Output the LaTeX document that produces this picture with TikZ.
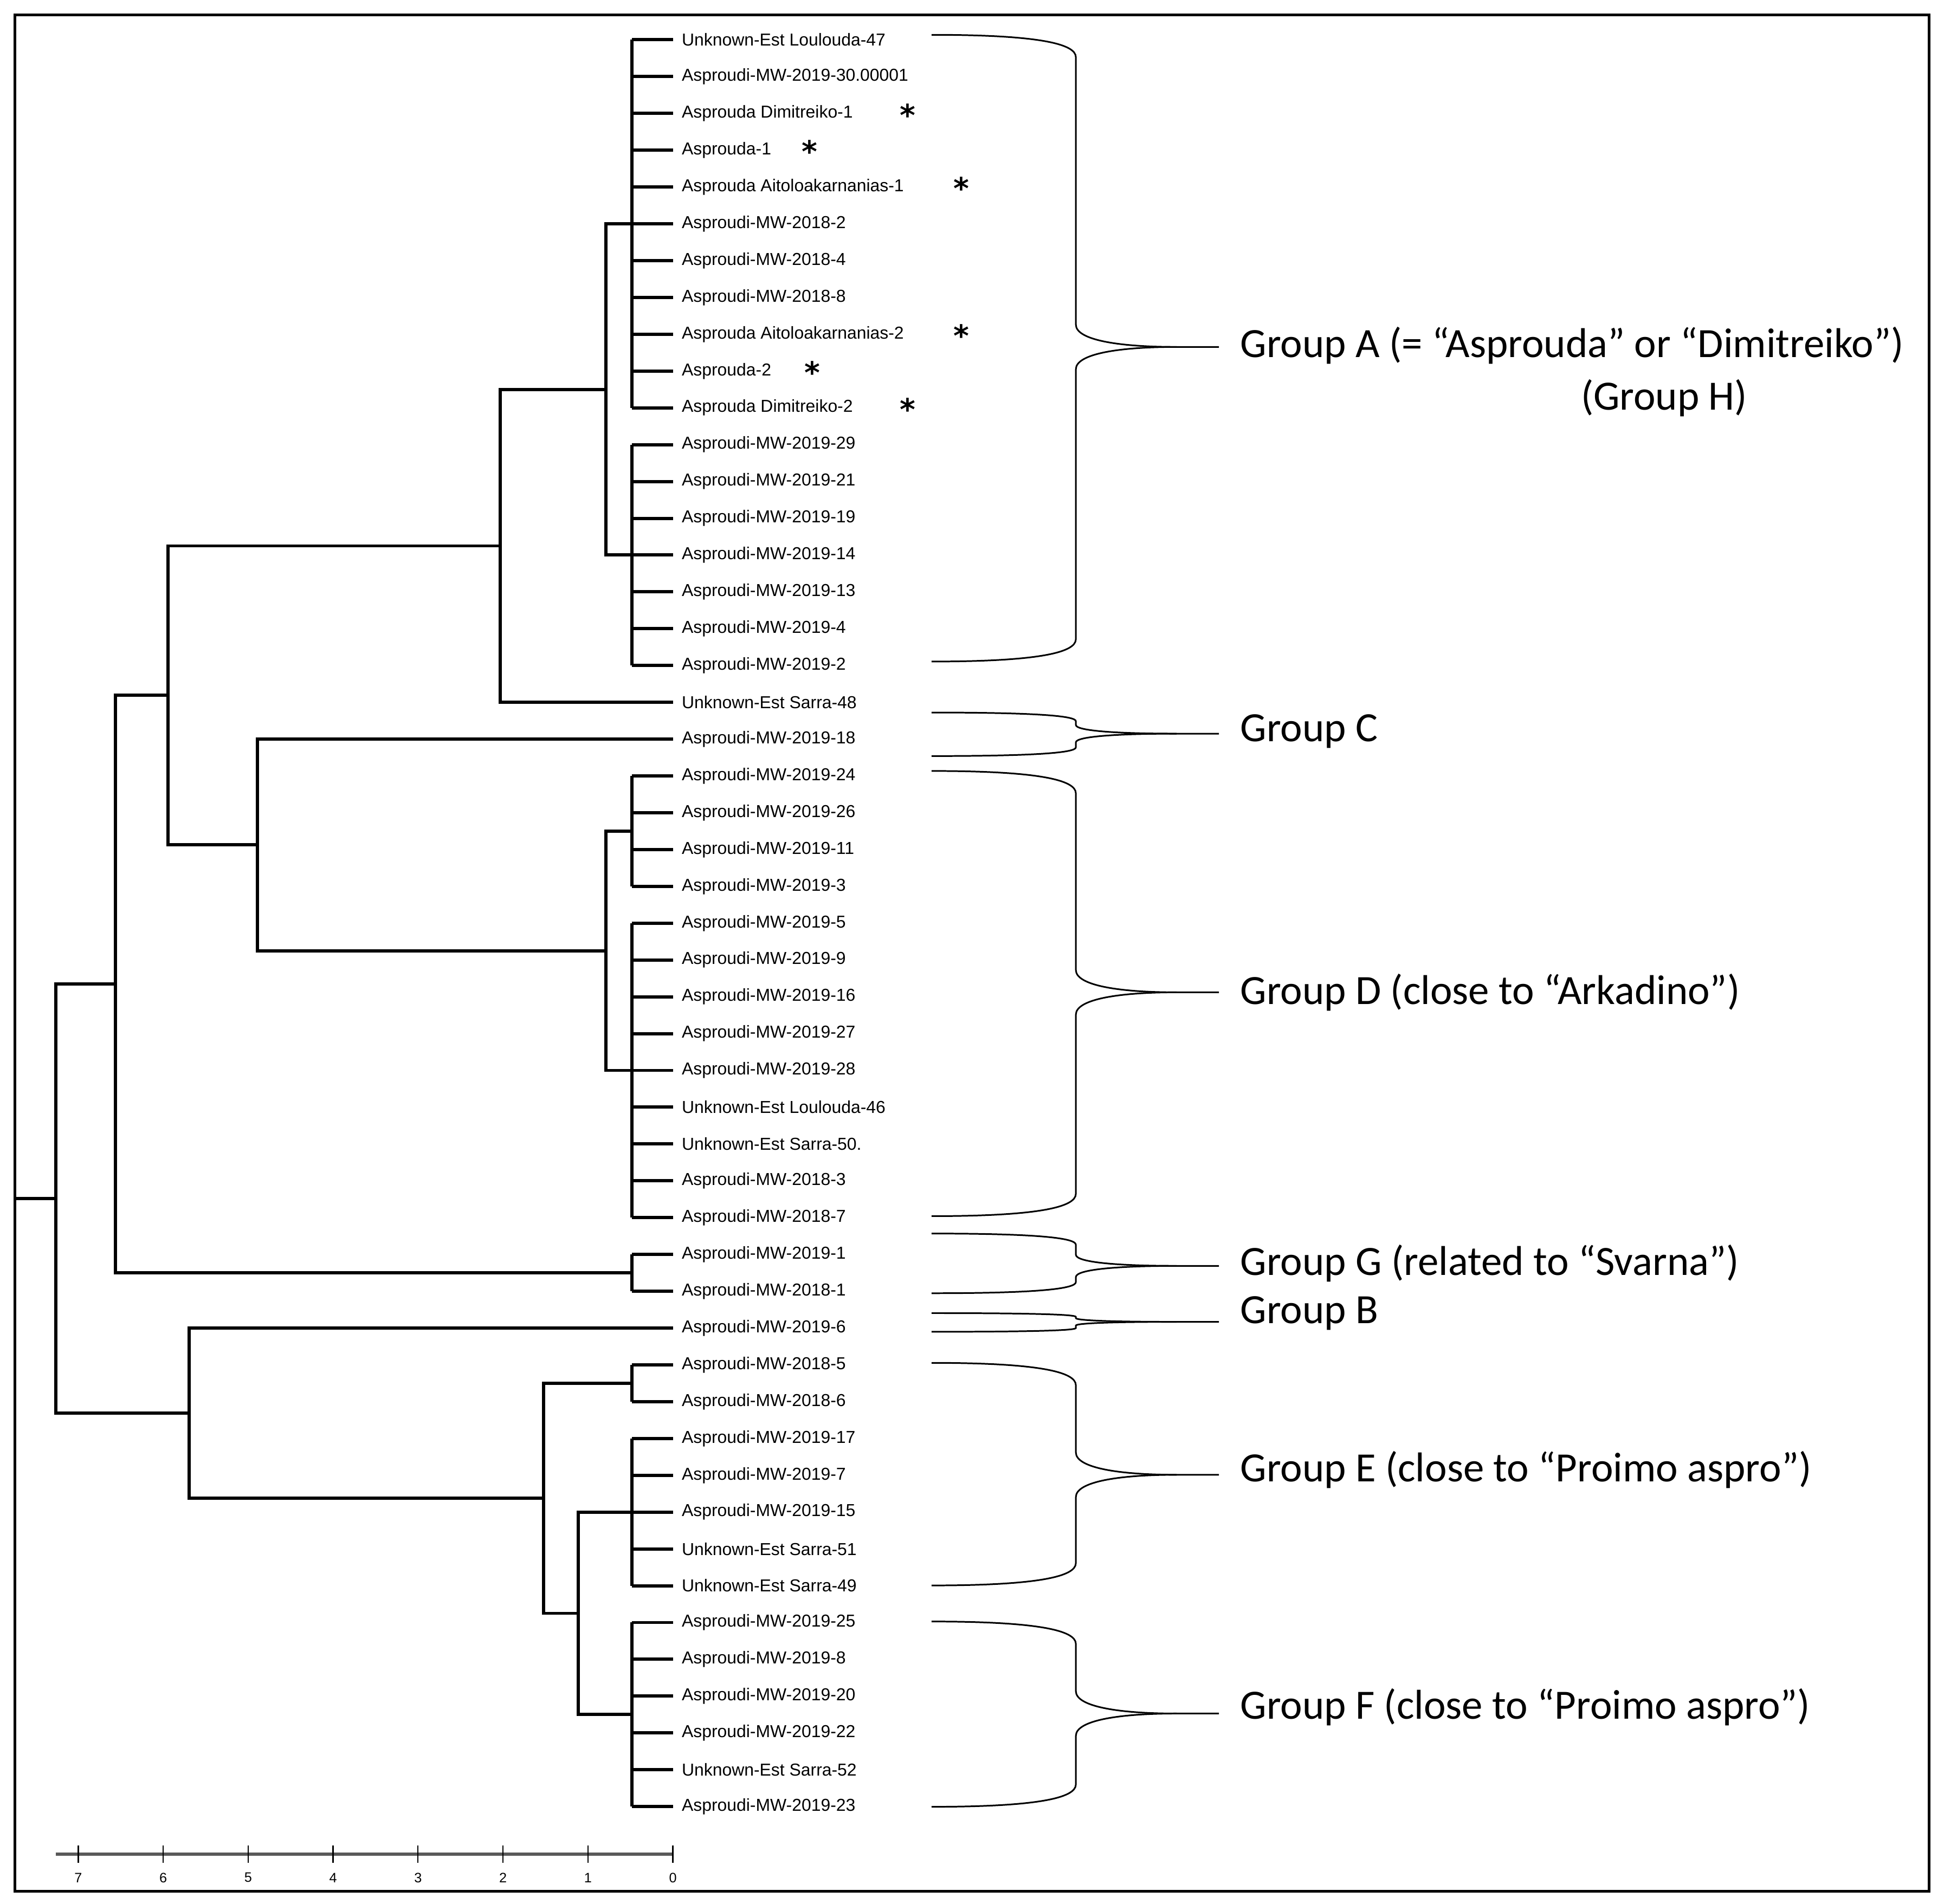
\documentclass[tikz,border=0pt]{standalone}
\usepackage{fontspec}
\setmainfont{Liberation Sans}
\newfontfamily\grpfont{Carlito}
\newfontfamily\starfont{DejaVu Sans}
\begin{document}
\begin{tikzpicture}[x=1pt,y=-1pt,
  tree/.style={line width=2.6pt,line join=miter},
  brc/.style={line width=1.3pt},
  leaf/.style={anchor=west,inner sep=0pt,font=\fontsize{13.9}{16}\selectfont},
  star/.style={inner sep=0pt,font=\starfont\bfseries\fontsize{24}{24}\selectfont},
  grp/.style={anchor=west,inner sep=0pt,font=\grpfont\fontsize{33.5}{36}\selectfont}]
\useasboundingbox (0,0) rectangle (1563,1531);
\draw[line width=2.2pt] (12,12) rectangle (1551,1521);
% leaves
\foreach \t [count=\i] in {Unknown-Est Loulouda-47,Asproudi-MW-2019-30.00001,Asprouda Dimitreiko-1,Asprouda-1,Asprouda Aitoloakarnanias-1,Asproudi-MW-2018-2,Asproudi-MW-2018-4,Asproudi-MW-2018-8,Asprouda Aitoloakarnanias-2,Asprouda-2,Asprouda Dimitreiko-2,Asproudi-MW-2019-29,Asproudi-MW-2019-21,Asproudi-MW-2019-19,Asproudi-MW-2019-14,Asproudi-MW-2019-13,Asproudi-MW-2019-4,Asproudi-MW-2019-2,Unknown-Est Sarra-48,Asproudi-MW-2019-18,Asproudi-MW-2019-24,Asproudi-MW-2019-26,Asproudi-MW-2019-11,Asproudi-MW-2019-3,Asproudi-MW-2019-5,Asproudi-MW-2019-9,Asproudi-MW-2019-16,Asproudi-MW-2019-27,Asproudi-MW-2019-28,Unknown-Est Loulouda-46,Unknown-Est Sarra-50.,Asproudi-MW-2018-3,Asproudi-MW-2018-7,Asproudi-MW-2019-1,Asproudi-MW-2018-1,Asproudi-MW-2019-6,Asproudi-MW-2018-5,Asproudi-MW-2018-6,Asproudi-MW-2019-17,Asproudi-MW-2019-7,Asproudi-MW-2019-15,Unknown-Est Sarra-51,Unknown-Est Sarra-49,Asproudi-MW-2019-25,Asproudi-MW-2019-8,Asproudi-MW-2019-20,Asproudi-MW-2019-22,Unknown-Est Sarra-52,Asproudi-MW-2019-23}{
  \pgfmathsetmacro\yy{32+29.6*(\i-1)}
  \node[leaf] (L\i) at (548,\yy) {\t};
  \coordinate (T\i) at (541,\yy);
  \draw[tree] (508,\yy) -- (T\i);
}
% asterisks
\foreach \i/\xx in {3/730,4/651,5/773,9/773,10/653,11/730}{
  \pgfmathsetmacro\yy{32+29.6*(\i-1)+1}
  \node[star] (S\i) at (\xx,\yy) {*};
}
% tree
\coordinate (nA) at (487,313.2);
\coordinate (nAS) at (402,439);
\coordinate (nD) at (487,764.6);
\coordinate (nCD) at (207,679.5);
\coordinate (nACD) at (135,559.2);
\coordinate (nG) at (93,791.4);
\coordinate (nF) at (465,1297.4);
\coordinate (nEF) at (437,1204.9);
\coordinate (nB) at (152,1136.5);
\coordinate (root) at (45,964);
\draw[tree] (508,32) -- (508,328);
\draw[tree] (508,357.6) -- (508,535.2);
\draw[tree] (508,180) -- (487,180) -- (487,446.4) -- (508,446.4);
\draw[tree] (nA) -- (402,313.2) -- (402,564.8) -- (508,564.8);
\draw[tree] (508,624) -- (508,712.8);
\draw[tree] (508,742.4) -- (508,979.2);
\draw[tree] (508,668.4) -- (487,668.4) -- (487,860.8) -- (508,860.8);
\draw[tree] (508,594.4) -- (207,594.4) -- (207,764.6) -- (nD);
\draw[tree] (nAS) -- (135,439) -- (135,679.5) -- (nCD);
\draw[tree] (508,1008.8) -- (508,1038.4);
\draw[tree] (nACD) -- (93,559.2) -- (93,1023.6) -- (508,1023.6);
\draw[tree] (508,1097.6) -- (508,1127.2);
\draw[tree] (508,1156.8) -- (508,1275.2);
\draw[tree] (508,1304.8) -- (508,1452.8);
\draw[tree] (508,1216) -- (465,1216) -- (465,1378.8) -- (508,1378.8);
\draw[tree] (508,1112.4) -- (437,1112.4) -- (437,1297.4) -- (nF);
\draw[tree] (508,1068) -- (152,1068) -- (152,1204.9) -- (nEF);
\draw[tree] (nG) -- (45,791.4) -- (45,1136.5) -- (nB);
\draw[tree] (12,964) -- (root);
% axis
\draw[line width=2.4pt,gray!70!black] (45,1491) -- (541,1491);
\foreach \v in {0,...,7}{
  \pgfmathsetmacro\xx{541-68.3*\v}
  \draw[line width=1pt] (\xx,1484) -- (\xx,1498);
  \node[inner sep=0pt,font=\fontsize{11}{12}\selectfont] (ax\v) at (\xx,1510) {\v};
}
% braces
\newcommand\grpbrace[4]{%
  \draw[brc] (749,#1) .. controls (835,#1) and (865,#1+0.4*#4) .. (865,#1+#4) -- (865,#2-#4)
     .. controls (865,#2-0.3*#4) and (900,#2) .. (946,#2) -- (980,#2);
  \draw[brc] (749,#3) .. controls (835,#3) and (865,#3-0.4*#4) .. (865,#3-#4) -- (865,#2+#4)
     .. controls (865,#2+0.3*#4) and (900,#2) .. (946,#2);}
\grpbrace{28}{279}{532}{18}
\grpbrace{573}{590}{608}{7}
\grpbrace{620}{798}{978}{18}
\grpbrace{992}{1018}{1040}{9}
\grpbrace{1056}{1063}{1071}{3}
\grpbrace{1096}{1186}{1275}{18}
\grpbrace{1304}{1378}{1453}{18}
\node[grp] (gA) at (997,278) {Group A (= “Asprouda” or “Dimitreiko”)};
\node[grp,anchor=center] (gH) at (1338,320) {(Group H)};
\node[grp] (gC) at (997,588) {Group C};
\node[grp] (gD) at (997,798) {Group D (close to “Arkadino”)};
\node[grp] (gG) at (997,1016) {Group G (related to “Svarna”)};
\node[grp] (gB) at (997,1056) {Group B};
\node[grp] (gE) at (997,1182) {Group E (close to “Proimo aspro”)};
\node[grp] (gF) at (997,1373) {Group F (close to “Proimo aspro”)};
\end{tikzpicture}
\end{document}
